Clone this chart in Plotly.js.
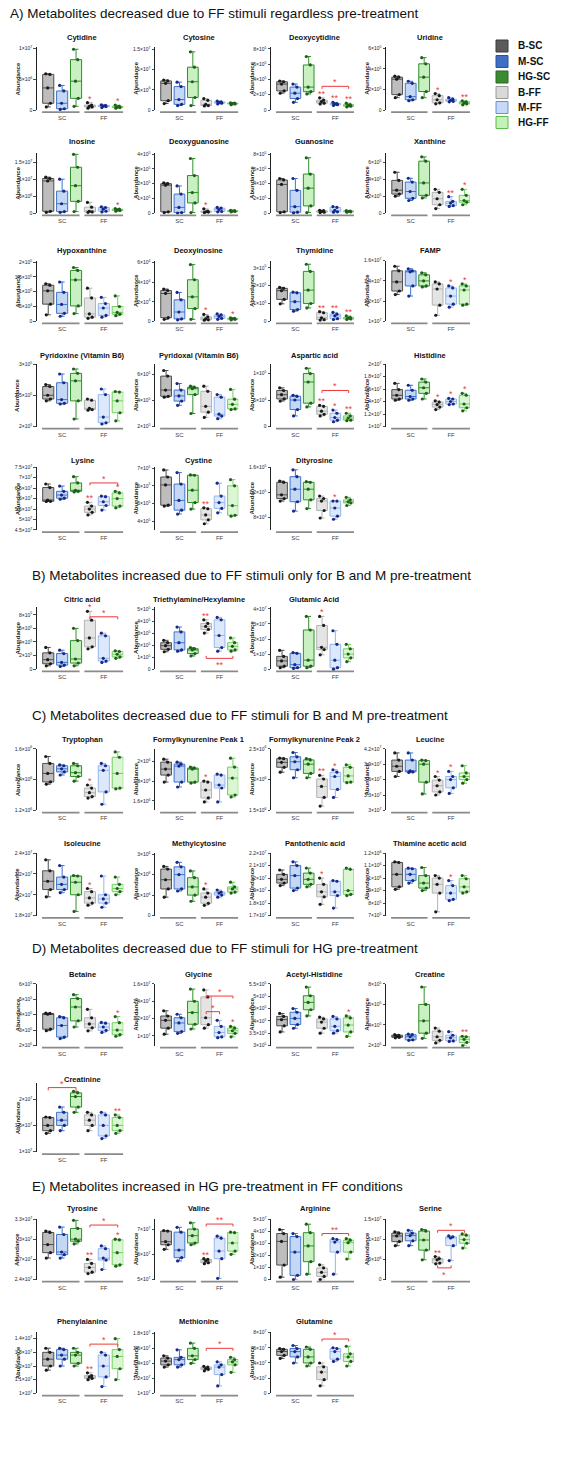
<!DOCTYPE html>
<html><head><meta charset="utf-8">
<script src="https://cdn.plot.ly/plotly-3.0.1.min.js"></script>
<style>html,body{margin:0;padding:0;background:#fff}#chart{width:565px;height:1481px}</style>
</head><body><div id="chart"></div>
<script>
// ---------------- DATA ----------------
const groupNames = ['B-SC','M-SC','HG-SC','B-FF','M-FF','HG-FF'];
const groupPos = [0,1,2,3,4,5];
const conditionLabels = ['SC','FF'];
const conditionPos = [1,4];
const sectionTitles = [
  'A) Metabolites decreased due to FF stimuli regardless pre-treatment',
  'B) Metabolites increased due to FF stimuli only for B and M pre-treatment',
  'C) Metabolites decreased due to FF stimuli for B and M pre-treatment',
  'D) Metabolites decreased due to FF stimuli for HG pre-treatment',
  'E) Metabolites increased in HG pre-treatment in FF conditions'
];
// each group: [min, q1, median, q3, max]-like readings, in panel units
const cytidine = [[0.5,1.1,3.6,5.8,5.9],[0.1,0.2,1.1,3.1,4.0],[0.6,1.9,4.7,8.2,9.9],[0.3,0.5,0.6,0.8,1.2],[0.4,0.55,0.65,0.75,0.85],[0.3,0.4,0.5,0.6,0.8]];
const cytosine = [[1.6,2.3,6.6,7.2,7.4],[1.1,1.4,2.6,5.8,6.9],[1.1,3.1,7.0,10.6,14.4],[1.0,1.1,1.4,2.4,2.8],[1.5,1.7,1.9,2.0,2.2],[1.3,1.5,1.6,1.7,1.8]];
const deoxycytidine = [[2.2,2.5,3.4,3.7,3.8],[1.0,1.5,2.2,3.0,3.4],[2.1,2.4,3.0,5.9,7.0],[0.8,0.9,1.1,1.3,1.6],[0.6,0.7,0.8,0.85,1.0],[0.4,0.5,0.6,0.7,0.9]];
const uridine = [[1.2,1.5,3.0,3.2,3.3],[0.9,1.0,1.3,2.6,2.8],[1.2,1.8,3.2,4.5,5.1],[0.6,0.7,1.0,1.4,1.6],[0.8,0.85,0.95,1.05,1.2],[0.5,0.6,0.7,0.8,0.9]];
const inosine = [[0.3,0.6,9.5,10.2,10.6],[0.3,0.5,2.8,6.5,10.0],[0.5,3.5,8.1,13.5,17.3],[0.3,0.4,0.6,1.8,3.2],[0.4,0.6,1.2,1.7,1.9],[0.6,0.8,1.0,1.2,1.4]];
const deoxyguanosine = [[0.05,0.1,1.9,2.0,2.05],[0.02,0.05,0.4,1.3,1.85],[0.05,0.7,1.4,2.55,3.7],[0.05,0.08,0.1,0.15,0.3],[0.1,0.12,0.25,0.35,0.4],[0.1,0.12,0.15,0.18,0.2]];
const guanosine = [[0.1,0.2,3.9,4.5,4.7],[0.05,0.15,0.9,3.1,4.7],[0.1,1.0,3.4,5.3,7.5],[0.1,0.15,0.25,0.35,0.4],[0.15,0.2,0.4,0.8,0.9],[0.15,0.2,0.25,0.3,0.35]];
const xanthine = [[2.0,2.25,2.7,3.85,4.8],[1.5,1.75,2.55,3.65,4.1],[1.8,2.1,3.55,6.1,6.6],[0.55,1.0,1.7,2.45,2.8],[0.8,0.9,1.2,1.4,1.95],[1.0,1.3,1.5,2.1,2.8]];
const hypoxanthine = [[0.22,0.58,1.03,1.22,1.27],[0.17,0.27,0.57,0.98,1.33],[0.26,0.52,1.4,1.72,1.82],[0.1,0.14,0.25,0.79,1.12],[0.14,0.2,0.45,0.6,0.81],[0.19,0.24,0.3,0.5,0.86]];
const deoxyinosine = [[0.2,0.37,2.85,3.15,3.3],[0.15,0.25,0.95,2.2,2.95],[0.2,1.3,2.5,4.25,5.8],[0.12,0.15,0.25,0.45,0.7],[0.2,0.3,0.5,0.65,0.75],[0.15,0.2,0.25,0.3,0.35]];
const thymidine = [[0.98,1.23,1.72,1.85,1.9],[0.57,0.66,1.1,1.6,1.64],[0.75,1.0,1.75,2.8,3.2],[0.07,0.09,0.2,0.48,0.54],[0.1,0.15,0.3,0.4,0.5],[0.1,0.13,0.18,0.22,0.3]];
const famp = [[1.265,1.3,1.39,1.5,1.545],[1.25,1.35,1.49,1.5,1.52],[1.34,1.35,1.40,1.46,1.48],[1.06,1.16,1.32,1.37,1.39],[1.14,1.17,1.25,1.33,1.35],[1.16,1.17,1.31,1.35,1.37]];
const pyridoxine = [[2.41,2.44,2.50,2.64,2.67],[2.36,2.37,2.43,2.70,2.84],[2.12,2.41,2.73,2.85,2.92],[2.26,2.27,2.29,2.42,2.44],[2.04,2.06,2.15,2.51,2.60],[2.09,2.22,2.41,2.55,2.56]];
const pyridoxal = [[4.25,4.32,4.8,5.87,6.3],[3.63,3.95,4.35,4.8,5.3],[3.0,4.45,4.9,5.0,5.1],[2.7,3.1,3.55,4.7,5.1],[2.6,2.8,2.95,4.25,4.45],[3.3,3.35,3.7,4.1,4.85]];
const asparticAcid = [[0.48,0.52,0.6,0.68,0.73],[0.2,0.32,0.5,0.57,0.59],[0.37,0.44,0.84,1.0,1.1],[0.2,0.23,0.29,0.38,0.40],[0.09,0.12,0.17,0.25,0.31],[0.11,0.12,0.16,0.2,0.25]];
const histidine = [[1.42,1.44,1.5,1.59,1.69],[1.42,1.44,1.48,1.58,1.66],[1.44,1.53,1.62,1.71,1.76],[1.27,1.31,1.35,1.39,1.41],[1.35,1.36,1.4,1.44,1.45],[1.25,1.3,1.36,1.5,1.53]];
const lysine = [[5.86,5.87,5.93,6.53,6.7],[5.97,6.02,6.17,6.35,6.6],[6.32,6.35,6.40,6.75,7.05],[5.22,5.34,5.5,5.64,5.82],[5.45,5.67,5.85,6.09,6.12],[5.56,5.64,6.0,6.27,6.35]];
const cystine = [[4.85,4.9,6.05,6.5,6.9],[4.4,4.62,5.17,6.1,6.75],[4.68,5.05,5.75,6.6,6.62],[3.85,4.07,4.35,4.7,4.75],[4.47,4.72,5.05,5.42,6.15],[4.28,4.33,4.88,6.0,6.35]];
const dityrosine = [[1.06,1.1,1.16,1.36,1.38],[0.9,1.05,1.25,1.45,1.56],[0.94,1.08,1.25,1.36,1.37],[0.79,0.91,1.06,1.1,1.14],[0.77,0.82,0.95,1.06,1.06],[0.99,1.03,1.05,1.08,1.12]];
const citricAcid = [[0.5,0.8,1.4,2.4,3.2],[0.4,0.6,1.0,2.3,2.8],[0.5,0.9,1.5,4.2,6.0],[3.0,3.3,4.6,7.2,8.5],[1.0,1.2,1.6,4.9,5.3],[1.6,1.8,2.2,2.6,2.7]];
const triethylamine = [[1.45,1.65,1.95,2.2,2.4],[1.5,1.6,2.2,3.1,3.5],[1.1,1.3,1.6,1.7,1.8],[3.0,3.3,3.55,3.8,4.1],[1.5,1.8,2.8,4.1,4.3],[1.5,1.6,1.9,2.2,2.6]];
const glutamicAcid = [[0.1,0.2,0.55,0.85,1.25],[0.05,0.1,0.3,1.05,1.1],[0.1,0.2,0.6,2.6,3.5],[0.95,1.3,1.45,2.9,3.5],[0.0,0.1,0.6,1.65,2.55],[0.5,0.75,1.0,1.35,1.65]];
const tryptophan = [[1.37,1.385,1.44,1.505,1.55],[1.43,1.45,1.47,1.49,1.495],[1.39,1.42,1.445,1.49,1.505],[1.28,1.29,1.315,1.345,1.365],[1.24,1.32,1.46,1.49,1.505],[1.34,1.345,1.44,1.545,1.58]];
const formylPeak1 = [[1.79,1.86,1.92,1.99,2.02],[1.74,1.79,1.95,1.97,1.99],[1.78,1.79,1.92,1.93,1.94],[1.59,1.63,1.71,1.79,1.8],[1.59,1.73,1.76,1.86,1.87],[1.64,1.66,1.83,1.94,2.03]];
const formylPeak2 = [[2.12,2.2,2.28,2.34,2.35],[2.03,2.16,2.29,2.37,2.44],[2.03,2.1,2.25,2.32,2.34],[1.57,1.71,1.89,2.01,2.07],[1.71,1.84,2.05,2.12,2.16],[1.95,1.96,2.06,2.2,2.24]];
const leucine = [[3.66,3.76,3.86,3.98,4.12],[3.74,3.75,3.77,3.98,4.12],[3.32,3.55,3.9,3.97,3.98],[3.3,3.36,3.48,3.59,3.66],[3.33,3.44,3.6,3.66,3.76],[3.53,3.6,3.66,3.73,3.87]];
const isoleucine = [[1.98,2.05,2.13,2.23,2.335],[2.02,2.05,2.1,2.17,2.28],[1.84,2.0,2.12,2.18,2.185],[1.9,1.92,1.97,2.03,2.06],[1.88,1.92,1.96,2.0,2.18],[2.0,2.03,2.06,2.1,2.17]];
const methylcytosine = [[0.9,1.3,1.75,2.27,2.4],[1.2,1.3,2.0,2.38,2.6],[0.7,1.0,1.4,1.85,2.18],[0.5,0.6,0.9,1.1,1.3],[0.9,1.0,1.1,1.15,1.25],[1.1,1.15,1.3,1.4,1.63]];
const pantothenicAcid = [[1.94,1.96,1.99,2.03,2.065],[1.9,1.92,2.02,2.1,2.13],[1.93,1.95,1.99,2.04,2.08],[1.79,1.85,1.89,1.95,2.0],[1.76,1.86,1.89,1.975,1.98],[1.86,1.87,1.9,2.07,2.08]];
const thiamineAcetic = [[0.91,0.93,1.03,1.125,1.13],[0.96,0.98,1.03,1.075,1.08],[0.9,0.92,0.96,1.02,1.085],[0.73,0.88,0.95,1.0,1.02],[0.82,0.83,0.88,0.94,0.98],[0.88,0.89,0.93,0.995,1.02]];
const betaine = [[2.96,3.06,4.03,4.08,4.1],[2.45,2.55,3.3,3.8,3.88],[3.2,3.6,4.5,5.05,5.3],[2.95,3.15,3.4,3.8,4.35],[2.85,2.98,3.2,3.45,3.5],[2.6,2.7,3.0,3.48,3.88]];
const glycine = [[1.02,1.09,1.18,1.23,1.29],[1.03,1.05,1.15,1.21,1.25],[1.08,1.135,1.27,1.4,1.54],[1.09,1.13,1.21,1.45,1.53],[0.98,0.99,1.04,1.11,1.18],[0.99,1.03,1.06,1.09,1.11]];
const acetylHistidine = [[3.55,3.8,4.05,4.18,4.3],[3.7,3.85,4.1,4.35,4.5],[4.2,4.45,4.75,5.02,5.37],[3.5,3.7,3.95,4.08,4.15],[3.5,3.6,3.78,4.08,4.18],[3.37,3.55,3.83,4.12,4.2]];
const creatine = [[2.75,2.8,2.9,3.0,3.05],[2.5,2.55,2.85,3.05,3.1],[2.7,3.2,4.4,6.0,7.7],[2.25,2.5,2.85,3.4,3.7],[2.4,2.45,2.75,3.0,3.35],[2.0,2.3,2.6,2.85,2.9]];
const creatinine = [[1.35,1.4,1.5,1.65,1.66],[1.4,1.5,1.6,1.75,1.85],[1.75,1.85,2.05,2.12,2.15],[1.4,1.5,1.6,1.7,1.75],[1.25,1.3,1.5,1.7,1.75],[1.35,1.4,1.5,1.65,1.7]];
const tyrosine = [[2.72,2.8,2.92,3.1,3.12],[2.72,2.77,2.81,3.07,3.18],[2.93,2.97,3.0,3.16,3.28],[2.49,2.51,2.58,2.64,2.7],[2.55,2.69,2.72,2.86,2.9],[2.6,2.62,2.8,2.99,3.0]];
const valine = [[6.2,6.38,6.5,6.92,6.94],[5.74,5.87,6.17,6.88,7.07],[6.38,6.45,6.74,7.0,7.25],[5.63,5.67,5.74,5.8,5.83],[5.05,5.83,6.13,6.64,6.72],[6.0,6.13,6.45,6.86,6.88]];
const arginine = [[0.2,1.2,3.15,3.8,4.13],[0.0,0.35,2.27,3.55,3.8],[0.45,1.48,2.78,3.87,4.57],[0.0,0.26,0.6,0.96,1.22],[0.45,2.27,3.1,3.3,3.38],[1.7,2.27,3.05,3.25,3.38]];
const serine = [[8.4,9.4,10.8,11.5,11.8],[8.4,9.6,10.9,11.5,12.2],[4.9,7.3,9.8,12.0,12.4],[3.9,4.1,4.9,5.2,5.7],[4.7,8.4,10.3,10.6,10.8],[7.8,9.0,9.9,11.0,11.3]];
const phenylalanine = [[1.17,1.2,1.25,1.3,1.33],[1.2,1.25,1.28,1.32,1.33],[1.2,1.22,1.28,1.3,1.33],[1.1,1.11,1.12,1.13,1.15],[1.05,1.12,1.2,1.28,1.3],[1.1,1.18,1.27,1.32,1.4]];
const methionine = [[1.35,1.38,1.43,1.47,1.5],[1.35,1.38,1.45,1.48,1.58],[1.4,1.45,1.5,1.6,1.67],[1.3,1.32,1.33,1.35,1.36],[1.1,1.25,1.35,1.38,1.42],[1.28,1.38,1.42,1.45,1.48]];
const glutamine = [[4.6,5.0,5.5,5.8,5.9],[4.0,4.8,5.5,5.9,6.3],[3.6,4.0,4.8,5.8,6.1],[1.0,1.8,2.8,3.5,4.0],[4.2,4.5,5.5,5.9,6.0],[3.6,4.2,4.8,5.2,6.2]];

const panelNames = ['Cytidine','Cytosine','Deoxycytidine','Uridine','Inosine','Deoxyguanosine','Guanosine','Xanthine','Hypoxanthine','Deoxyinosine','Thymidine','FAMP','Pyridoxine (Vitamin B6)','Pyridoxal (Vitamin B6)','Aspartic acid','Histidine','Lysine','Cystine','Dityrosine','Citric acid','Triethylamine/Hexylamine','Glutamic Acid','Tryptophan','Formylkynurenine Peak 1','Formylkynurenine Peak 2','Leucine','Isoleucine','Methylcytosine','Pantothenic acid','Thiamine acetic acid','Betaine','Glycine','Acetyl-Histidine','Creatine','Creatinine','Tyrosine','Valine','Arginine','Serine','Phenylalanine','Methionine','Glutamine'];
const panelData = [cytidine,cytosine,deoxycytidine,uridine,inosine,deoxyguanosine,guanosine,xanthine,hypoxanthine,deoxyinosine,thymidine,famp,pyridoxine,pyridoxal,asparticAcid,histidine,lysine,cystine,dityrosine,citricAcid,triethylamine,glutamicAcid,tryptophan,formylPeak1,formylPeak2,leucine,isoleucine,methylcytosine,pantothenicAcid,thiamineAcetic,betaine,glycine,acetylHistidine,creatine,creatinine,tyrosine,valine,arginine,serine,phenylalanine,methionine,glutamine];
const panelExponent = [6,6,5,5,6,5,5,5,5,4,5,7,5,5,5,7,7,5,5,5,5,7,6,6,6,7,7,6,7,6,5,7,5,5,7,7,7,7,6,7,7,7];
const panelTicks = [[0,5,10],[0,5,10,15],[0,2,4,6,8],[0,2,4,6],[0,5,10,15],[0,1,2,3,4],[0,2,4,6,8],[0,2,4,6],[0,0.5,1,1.5,2],[0,2,4,6],[0,1,2,3],[1,1.2,1.4,1.6],[2,2.5,3],[2,4,6],[0,0.5,1],[1,1.2,1.4,1.6,1.8,2],[4.5,5,5.5,6,6.5,7,7.5],[4,5,6,7],[0.8,1.2,1.6],[0,2,4,6,8],[0,1,2,3,4,5],[0,1,2,3,4],[1.2,1.4,1.6],[1.6,1.8,2.0],[1.5,2,2.5],[3,3.3,3.6,3.9,4.2],[1.8,2.0,2.2,2.4],[0,1,2,3],[1.7,1.8,1.9,2.0,2.1,2.2],[0.7,0.8,0.9,1.0,1.1,1.2],[2,3,4,5,6],[1.0,1.2,1.4,1.6],[3,3.5,4,4.5,5,5.5],[2,4,6,8],[1,1.5,2],[2.4,2.7,3.0,3.3],[5,6,7],[0,1,2,3,4,5],[0,5,10,15],[1.0,1.1,1.2,1.3,1.4],[1.0,1.2,1.4,1.6,1.8],[0,2,4,6,8]];
const panelTickLabels = [['0','5|6','1|7'],['0','5|6','1|7','1.5|7'],['0','2|5','4|5','6|5','8|5'],['0','2|5','4|5','6|5'],['0','5|6','1|7','1.5|7'],['0','1|5','2|5','3|5','4|5'],['0','2|5','4|5','6|5','8|5'],['0','2|5','4|5','6|5'],['0','5|4','1|5','1.5|5','2|5'],['0','2|4','4|4','6|4'],['0','1|5','2|5','3|5'],['1|7','1.2|7','1.4|7','1.6|7'],['2|5','2.5|5','3|5'],['2|5','4|5','6|5'],['0','5|4','1|5'],['1|7','1.2|7','1.4|7','1.6|7','1.8|7','2|7'],['4.5|7','5|7','5.5|7','6|7','6.5|7','7|7','7.5|7'],['4|5','5|5','6|5','7|5'],['8|4','1.2|5','1.6|5'],['0','2|5','4|5','6|5','8|5'],['0','1|5','2|5','3|5','4|5','5|5'],['0','1|7','2|7','3|7','4|7'],['1.2|6','1.4|6','1.6|6'],['1.6|6','1.8|6','2|6'],['1.5|6','2|6','2.5|6'],['3|7','3.3|7','3.6|7','3.9|7','4.2|7'],['1.8|7','2|7','2.2|7','2.4|7'],['0','1|6','2|6','3|6'],['1.7|7','1.8|7','1.9|7','2|7','2.1|7','2.2|7'],['7|5','8|5','9|5','1|6','1.1|6','1.2|6'],['2|5','3|5','4|5','5|5','6|5'],['1|7','1.2|7','1.4|7','1.6|7'],['3|5','3.5|5','4|5','4.5|5','5|5','5.5|5'],['2|5','4|5','6|5','8|5'],['1|7','1.5|7','2|7'],['2.4|7','2.7|7','3|7','3.3|7'],['5|7','6|7','7|7'],['0','1|7','2|7','3|7','4|7','5|7'],['0','5|6','1|7','1.5|7'],['1|7','1.1|7','1.2|7','1.3|7','1.4|7'],['1|7','1.2|7','1.4|7','1.6|7','1.8|7'],['0','2|7','4|7','6|7','8|7']];
// significance marks: [panel, group, text]
const starMarks = [[0,3,'*'],[0,5,'*'],[2,3,'**'],[2,4,'**'],[2,5,'**'],[3,3,'*'],[3,5,'**'],[4,5,'*'],[5,3,'*'],[7,4,'**'],[7,5,'*'],[9,3,'*'],[9,5,'*'],[10,3,'**'],[10,4,'**'],[10,5,'**'],[11,4,'*'],[11,5,'*'],[14,3,'**'],[14,4,'*'],[14,5,'**'],[15,3,'*'],[15,4,'*'],[15,5,'*'],[16,3,'**'],[16,5,'*'],[17,3,'**'],[18,4,'*'],[19,3,'*'],[20,3,'**'],[21,3,'*'],[22,3,'*'],[23,3,'*'],[24,3,'**'],[24,4,'*'],[25,3,'*'],[25,4,'*'],[26,3,'*'],[27,3,'*'],[28,3,'*'],[29,4,'*'],[30,5,'*'],[31,5,'*'],[32,5,'*'],[33,5,'**'],[34,5,'**'],[35,3,'**'],[35,5,'*'],[36,3,'**'],[38,3,'**'],[39,3,'**']];
// brackets: [panel, fromGroup, toGroup, level (panel units), text, side]
const brackets = [[2,3,5,3.1,'*','up'],[14,3,5,0.68,'*','up'],[16,3,5,6.75,'*','up'],[19,3,5,7.7,'*','up'],[20,3,5,0.9,'**','down'],[31,3,5,1.46,'*','up'],[31,3,4,1.28,'*','up'],[34,0,2,2.22,'*','up'],[35,3,5,3.21,'*','up'],[36,3,5,7.2,'**','up'],[37,3,5,3.8,'**','up'],[38,3,5,12.2,'*','up'],[38,3,4,2.9,'*','down'],[39,3,5,1.36,'*','up'],[40,3,5,1.6,'*','up'],[41,3,5,7.15,'*','up']];

// ---------------- LAYOUT / STYLE ----------------
const W = 565, H = 1481;
const FONT = 'Liberation Sans Narrow, Liberation Sans, Arial, sans-serif';
const panelRow = [0,0,0,0,1,1,1,1,2,2,2,2,3,3,3,3,4,4,4,5,5,5,6,6,6,6,7,7,7,7,8,8,8,8,9,10,10,10,10,11,11,11];
const panelCol = [0,1,2,3,0,1,2,3,0,1,2,3,0,1,2,3,0,1,2,0,1,2,0,1,2,3,0,1,2,3,0,1,2,3,0,0,1,2,3,0,1,2];
const panelRange = [[0,10.2],[0,15.5],[0,8.2],[0,6.1],[0,17.8],[0,4.1],[0,8.2],[0,7.1],[0,2.05],[0,6.2],[0,3.4],[1,1.6],[2,3.0],[2,6.8],[0,1.18],[1,2],[4.5,7.5],[3.5,7.05],[0.6,1.6],[0,9.2],[0,5.2],[0,4.15],[1.2,1.6],[1.505,2.124],[1.5,2.5],[3,4.2],[1.8,2.4],[0,3.05],[1.7,2.2],[0.7,1.2],[2,6],[0.89,1.6],[3,5.5],[2,8],[1,2.3],[2.4,3.3],[5,7.4],[0,5],[0,15],[1.0,1.45],[1.0,1.82],[0,8.1]];
const rowTitleY = [38,141,250,355.5,460,599,739.5,843.5,974.5,1079.5,1208.5,1321.5];
const rowTop =    [47.4,152.6,260.7,364,467.3,606.6,748.8,853.1,983.9,1089.1,1219,1331.8];
const rowBottom = [110,213.3,321.3,426.5,529.9,669.2,810.4,915.6,1045.5,1151.7,1279.6,1393.4];
const topOverride = {34:1083.4};
const colAxisX = [36.7,155,271,386];
const colRightX = [123.3,238.3,354,470];
const sectionY = [13,576,715,949,1186];
const sectionX = [8,30,30,30,30];

const boxFill = ['#bdbdbd','#c4d8f5','#c8f0c0','#e4e4e4','#dde9fb','#daf6d2'];
const boxLine = ['#4d4d4d','#3f73c9','#2f8f2a','#b3b3b3','#93b6ee','#72cf60'];
const dotColor = ['#1a1a1a','#16288a','#1f5f1b','#1a1a1a','#16288a','#1f5f1b'];
const legendFill = ['#5b5b5b','#3f6fc4','#3c8a31','#d9d9d9','#c6d9f6','#c4f1b7'];
const legendLine = ['#3a3a3a','#27529e','#276a1f','#9a9a9a','#6690d6','#5cbc4a'];
const legendY = [46,61.5,77,92.5,107.5,122.5];
const RED = '#ee3a3a';
const jitter = [-0.14,0.16,-0.04,0.12,-0.18,0.06];

const px = x => x / W;
const py = y => 1 - y / H;
const lab = s => { const p = s.split('|'); return p.length === 1 ? p[0] : p[0] + '×10<sup>' + p[1] + '</sup>'; };
function quant(s, p) { const pos = (s.length - 1) * p, lo = Math.floor(pos), hi = Math.ceil(pos); return s[lo] + (s[hi] - s[lo]) * (pos - lo); }

const traces = [], shapes = [], annotations = [];
const layout = {
  width: W, height: H, margin: {l:0,r:0,t:0,b:0}, paper_bgcolor:'#fff', plot_bgcolor:'rgba(0,0,0,0)',
  showlegend: false, font: {family: FONT, color:'#222'}, boxmode: 'overlay'
};

panelNames.forEach((name, i) => {
  const k = i === 0 ? '' : String(i + 1);
  const xa = 'x' + k, ya = 'y' + k;
  const sc = Math.pow(10, panelExponent[i]);
  const r = panelRow[i], c = panelCol[i];
  const top = topOverride[i] !== undefined ? topOverride[i] : rowTop[r];
  const bot = rowBottom[r];
  const rng = panelRange[i];
  layout['xaxis' + k] = {
    domain: [px(colAxisX[c]), px(colRightX[c])], range: [-0.83, 5.4], anchor: ya,
    tickvals: conditionPos, ticktext: conditionLabels, ticks: '', showline: false, showgrid: false, zeroline: false,
    tickfont: {size: 6, color: '#444', family: FONT}, ticklabelstandoff: 3, fixedrange: true
  };
  layout['yaxis' + k] = {
    domain: [py(bot), py(top)], range: [rng[0] * sc, rng[1] * sc], anchor: xa,
    tickvals: panelTicks[i].map(v => v * sc), ticktext: panelTickLabels[i].map(lab),
    showline: true, linecolor: '#222', linewidth: 1, ticks: 'outside', ticklen: 2.5, tickwidth: 0.8, tickcolor: '#222',
    tickfont: {size: 5, color: '#222', family: FONT}, showgrid: false, zeroline: false, fixedrange: true
  };
  const data = panelData[i];
  const ptsX = [], ptsY = [], ptsC = [];
  data.forEach((vals, g) => {
    const s = vals.slice().sort((a, b) => a - b);
    traces.push({
      type: 'box', xaxis: xa, yaxis: ya, x: [groupPos[g]],
      q1: [quant(s, 0.25) * sc], median: [quant(s, 0.5) * sc], q3: [quant(s, 0.75) * sc],
      lowerfence: [s[0] * sc], upperfence: [s[s.length - 1] * sc],
      width: 0.8, whiskerwidth: 0.45, fillcolor: boxFill[g], line: {color: boxLine[g], width: 1},
      boxpoints: false, hoverinfo: 'skip'
    });
    vals.forEach((v, j) => { ptsX.push(groupPos[g] + jitter[j % jitter.length]); ptsY.push(v * sc); ptsC.push(dotColor[g]); });
  });
  traces.push({type: 'scatter', mode: 'markers', xaxis: xa, yaxis: ya, x: ptsX, y: ptsY,
    marker: {size: 3.2, color: ptsC}, hoverinfo: 'skip', cliponaxis: false});
  const yd = ya + ' domain';
  [[-0.45, 2.25], [2.6, 5.4]].forEach(seg => shapes.push({type: 'line', xref: xa, yref: yd, x0: seg[0], x1: seg[1], y0: -0.035, y1: -0.035, line: {color: '#8a8a8a', width: 1.8}}));
  annotations.push({xref: 'paper', yref: 'paper', x: px((colAxisX[c] + colRightX[c]) / 2 + 2), y: py(rowTitleY[r]), text: '<b>' + name + '</b>', showarrow: false, font: {size: 7.5, family: FONT, color: '#111'}, xanchor: 'center', yanchor: 'middle'});
  annotations.push({xref: 'paper', yref: 'paper', x: px(colAxisX[c] - 19), y: py((top + bot) / 2), text: '<b>Abundance</b>', textangle: -90, showarrow: false, font: {size: 6, family: FONT, color: '#222'}, xanchor: 'center', yanchor: 'middle'});
});

starMarks.forEach(m => {
  const i = m[0], g = m[1];
  const k = i === 0 ? '' : String(i + 1);
  const sc = Math.pow(10, panelExponent[i]);
  const mx = Math.max.apply(null, panelData[i][g]);
  annotations.push({xref: 'x' + k, yref: 'y' + k, x: groupPos[g], y: mx * sc, text: m[2], showarrow: false, yanchor: 'bottom', yshift: -3, font: {size: 9, color: RED, family: FONT}});
});

brackets.forEach(b => {
  const i = b[0];
  const k = i === 0 ? '' : String(i + 1);
  const sc = Math.pow(10, panelExponent[i]);
  const span = panelRange[i][1] - panelRange[i][0];
  const y = b[3] * sc, d = (b[5] === 'up' ? -1 : 1) * 0.04 * span * sc;
  const x0 = groupPos[b[1]], x1 = groupPos[b[2]];
  shapes.push({type: 'path', xref: 'x' + k, yref: 'y' + k, path: `M ${x0},${y + d} L ${x0},${y} L ${x1},${y} L ${x1},${y + d}`, line: {color: RED, width: 1}});
  annotations.push({xref: 'x' + k, yref: 'y' + k, x: (x0 + x1) / 2, y: y, text: b[4], showarrow: false,
    yanchor: b[5] === 'up' ? 'bottom' : 'top', yshift: b[5] === 'up' ? -3 : 0, font: {size: 9, color: RED, family: FONT}});
});

sectionTitles.forEach((t, j) => annotations.push({xref: 'paper', yref: 'paper', x: px(sectionX[j]), y: py(sectionY[j]), text: t, showarrow: false, xanchor: 'left', yanchor: 'middle', font: {size: 13.5, family: FONT, color: '#111'}}));

groupNames.forEach((g, j) => {
  shapes.push({type: 'rect', xref: 'paper', yref: 'paper', x0: px(496), x1: px(508), y0: py(legendY[j] + 6), y1: py(legendY[j] - 6), fillcolor: legendFill[j], line: {color: legendLine[j], width: 1}});
  annotations.push({xref: 'paper', yref: 'paper', x: px(516), y: py(legendY[j]), text: '<b>' + g + '</b>', showarrow: false, xanchor: 'left', yanchor: 'middle', font: {size: 10, family: FONT, color: '#111'}});
});

layout.shapes = shapes;
layout.annotations = annotations;
Plotly.newPlot('chart', traces, layout, {staticPlot: true, displayModeBar: false});
</script></body></html>
